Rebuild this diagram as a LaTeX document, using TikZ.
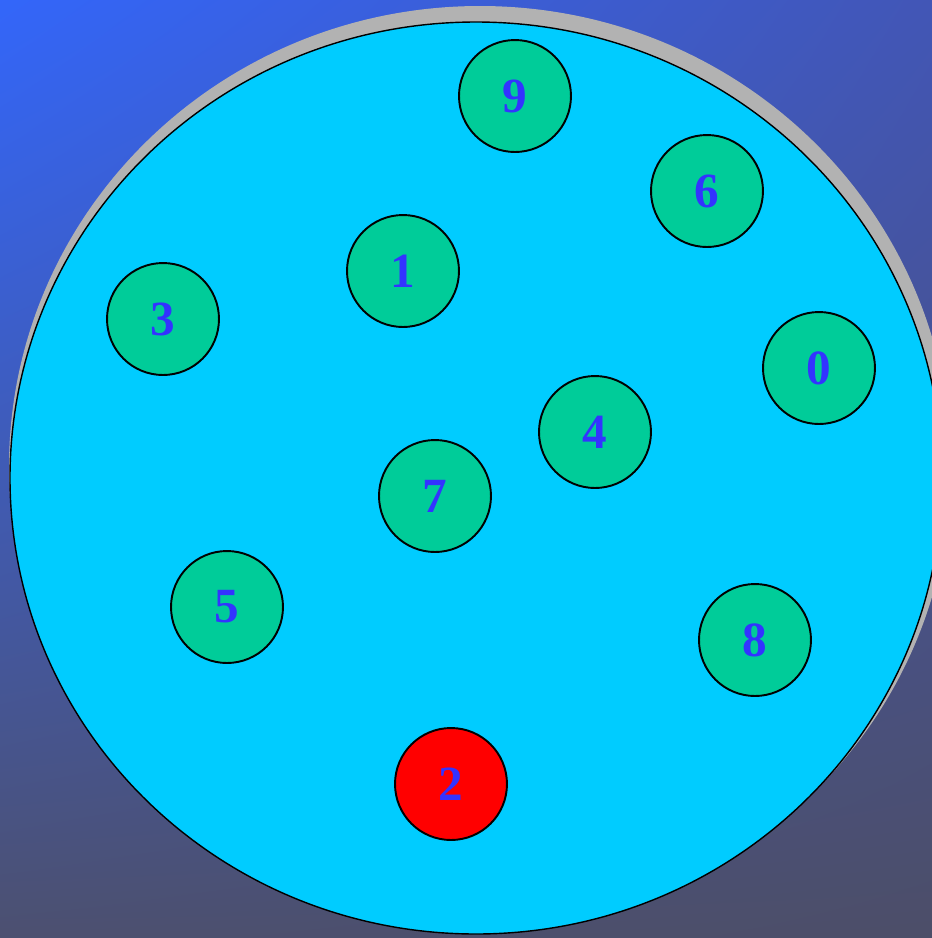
\documentclass[tikz,border=0pt]{standalone}
\usepackage{fontspec}
\setmainfont{Liberation Serif}
\usepackage{tikz}
\usetikzlibrary{positioning,shadings}

\definecolor{pool}{HTML}{00CCFF}
\definecolor{ballgreen}{HTML}{00CC99}
\definecolor{ballred}{HTML}{FF0000}
\definecolor{digitblue}{HTML}{3333FF}
\definecolor{shadowgrey}{HTML}{B2B2B2}
\definecolor{bgul}{RGB}{51,102,250}
\definecolor{bgur}{RGB}{66,86,182}
\definecolor{bgll}{RGB}{76,80,112}
\definecolor{bglr}{RGB}{76,78,104}

\begin{document}
\begin{tikzpicture}[
		x=0.02cm,
		y=-0.02cm,
		ball/.style={
			circle,
			draw=black,
			line width=1.1pt,
			fill=ballgreen,
			minimum size=2.24cm,
			inner sep=0pt,
			text=digitblue,
			font=\fontsize{28}{30}\selectfont\bfseries
		},
		picked/.style={
			ball,
			fill=ballred
		}
		]
		
		%--------------------------------------------------
		% Background
		%--------------------------------------------------
		
		\useasboundingbox (0,0) rectangle (932,938);
		\shade[upper left=bgul, upper right=bgur,
			lower left=bgll, lower right=bglr]
		(0,0) rectangle (932,938);
		
		%--------------------------------------------------
		% Pool
		%--------------------------------------------------
		
		\fill[shadowgrey] (480,467) ellipse [x radius=471, y radius=461];
		\fill[pool,draw=black,line width=0.8pt]
		(476,478) ellipse [x radius=466, y radius=456];
		
		%--------------------------------------------------
		% Balls
		%--------------------------------------------------
		
		\node (b9) [ball] at (515,96) {9};
		\node (b6) [ball] at (707,191) {6};
		\node (b1) [ball] at (403,271) {1};
		\node (b3) [ball] at (163,319) {3};
		\node (b0) [ball] at (819,368) {0};
		\node (b4) [ball] at (595,432) {4};
		\node (b7) [ball] at (435,496) {7};
		\node (b5) [ball] at (227,607) {5};
		\node (b8) [ball] at (755,640) {8};
		\node (b2) [picked] at (451,784) {2};
		
	\end{tikzpicture}
\end{document}
